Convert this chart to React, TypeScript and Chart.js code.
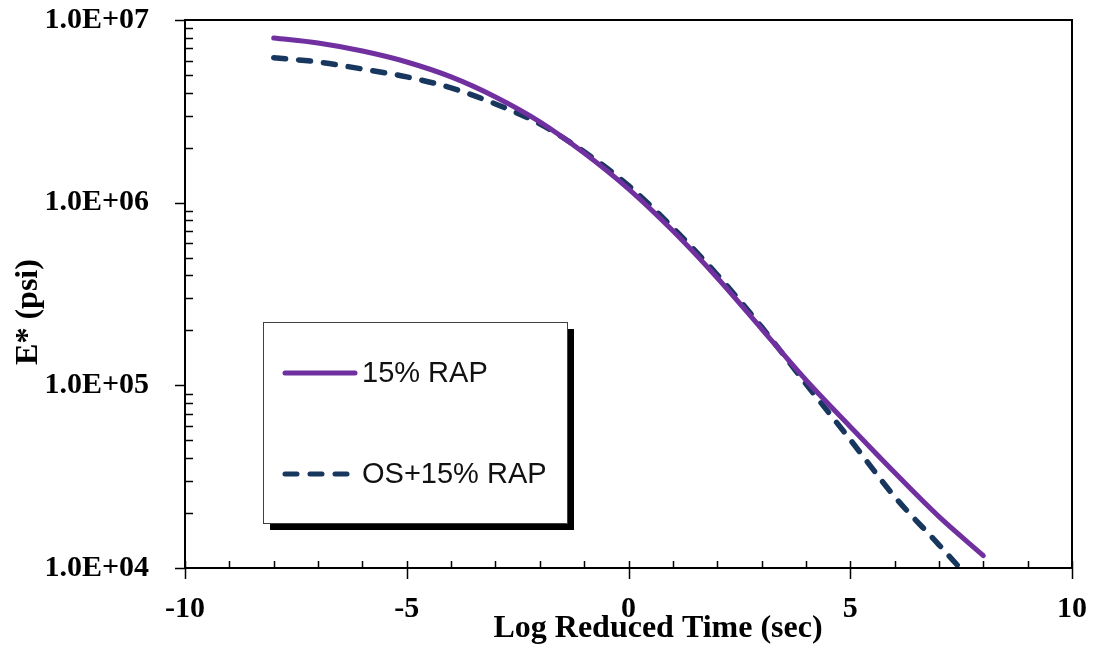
import { useEffect, useRef } from "react";
import { Chart, registerables } from "chart.js";

Chart.register(...registerables);

// Master curves: dynamic modulus vs. log reduced time
const logTime = [-8, -7, -6, -5, -4, -3, -2, -1, 0, 1, 2, 3, 4, 5, 6, 7, 8];
const rap15 = [
  7.97e6, 7.48e6, 6.76e6, 5.89e6, 4.88e6, 3.79e6, 2.77e6, 1.87e6, 1.19e6,
  7.01e5, 3.88e5, 2.04e5, 1.07e5, 5.94e4, 3.33e4, 1.91e4, 1.17e4,
];
const osRap15 = [
  6.22e6, 5.89e6, 5.39e6, 4.88e6, 4.25e6, 3.47e6, 2.7e6, 1.9e6, 1.24e6,
  7.28e5, 4.03e5, 2.09e5, 1.02e5, 5.04e4, 2.46e4, 1.34e4, 7.2e3,
];
const seriesLabels = ["15% RAP", "OS+15% RAP"];
const seriesColors = ["#7030A0", "#17375E"];
const yMajorTicks = [1e4, 1e5, 1e6, 1e7];
const xMajorTicks = [-10, -5, 0, 5, 10];
const xTitle = "Log Reduced Time (sec)";
const yTitle = "E* (psi)";

const SERIF = '"Times New Roman", "Liberation Serif", serif';
const SANS = 'Arial, "Liberation Sans", sans-serif';

function sciLabel(v: number): string {
  const e = Math.round(Math.log10(v));
  return `1.0E+${String(e).padStart(2, "0")}`;
}

// Axis frame, tick marks and axis titles
const framePlugin = {
  id: "frameTicks",
  afterDatasetsDraw(chart: any) {
    const { ctx, chartArea: a, scales } = chart;
    const xs = scales.x;
    const ys = scales.y;
    ctx.save();
    ctx.strokeStyle = "#000";
    ctx.lineWidth = 2;
    ctx.beginPath();
    ctx.moveTo(a.left, a.top);
    ctx.lineTo(a.right, a.top);
    ctx.lineTo(a.right, a.bottom);
    ctx.lineTo(a.left, a.bottom);
    ctx.closePath();
    ctx.stroke();

    ctx.lineWidth = 1.5;
    ctx.beginPath();
    // x ticks: majors cross the axis, minors inside at each unit
    for (let v = -10; v <= 10; v++) {
      const px = Math.round(xs.getPixelForValue(v)) + 0.5;
      const major = xMajorTicks.includes(v);
      ctx.moveTo(px, a.bottom - 7);
      ctx.lineTo(px, a.bottom + (major ? 11 : 0));
    }
    // y ticks: majors outside, log minors inside
    for (const m of yMajorTicks) {
      const py = Math.round(ys.getPixelForValue(m)) + 0.5;
      ctx.moveTo(a.left - 10, py);
      ctx.lineTo(a.left, py);
      if (m < 1e7) {
        for (let k = 2; k <= 9; k++) {
          const qy = Math.round(ys.getPixelForValue(m * k)) + 0.5;
          ctx.moveTo(a.left, qy);
          ctx.lineTo(a.left + 8, qy);
        }
      }
    }
    ctx.stroke();

    ctx.fillStyle = "#000";
    ctx.font = `bold 32px ${SERIF}`;
    ctx.textAlign = "center";
    ctx.textBaseline = "alphabetic";
    ctx.fillText(xTitle, 658, 637);
    ctx.save();
    ctx.translate(37, 312);
    ctx.rotate(-Math.PI / 2);
    ctx.fillText(yTitle, 0, 0);
    ctx.restore();
    ctx.restore();
  },
};

// Boxed legend with drop shadow inside the plot
const legendPlugin = {
  id: "boxLegend",
  afterDraw(chart: any) {
    const { ctx } = chart;
    const bx = 263, by = 322, bw = 304, bh = 201;
    ctx.save();
    ctx.fillStyle = "#000";
    ctx.fillRect(bx + 7, by + 7, bw, bh);
    ctx.fillStyle = "#fff";
    ctx.fillRect(bx, by, bw, bh);
    ctx.strokeStyle = "#404040";
    ctx.lineWidth = 1;
    ctx.strokeRect(bx + 0.5, by + 0.5, bw, bh);

    const rows = [373, 474];
    chart.data.datasets.forEach((ds: any, i: number) => {
      const y = rows[i];
      ctx.strokeStyle = ds.borderColor;
      ctx.lineWidth = 5;
      ctx.lineCap = "round";
      ctx.setLineDash(ds.borderDash || []);
      ctx.beginPath();
      ctx.moveTo(285, y);
      ctx.lineTo(i === 0 ? 355 : 352, y);
      ctx.stroke();
      ctx.setLineDash([]);
      ctx.fillStyle = "#111";
      ctx.font = `29px ${SANS}`;
      ctx.textAlign = "left";
      ctx.textBaseline = "middle";
      ctx.fillText(ds.label, 362, y + 1);
    });
    ctx.restore();
  },
};

export default function App() {
  const canvasRef = useRef<HTMLCanvasElement | null>(null);

  useEffect(() => {
    const canvas = canvasRef.current;
    if (!canvas) return;
    const chart = new Chart(canvas, {
      type: "line",
      data: {
        labels: logTime,
        datasets: [
          {
            label: seriesLabels[0],
            data: logTime.map((t, i) => ({ x: t, y: rap15[i] })),
            borderColor: seriesColors[0],
            borderWidth: 5,
            pointRadius: 0,
            cubicInterpolationMode: "monotone",
            borderCapStyle: "round",
            fill: false,
          },
          {
            label: seriesLabels[1],
            data: logTime.map((t, i) => ({ x: t, y: osRap15[i] })),
            borderColor: seriesColors[1],
            borderWidth: 5.5,
            borderDash: [12, 13],
            borderCapStyle: "round",
            pointRadius: 0,
            cubicInterpolationMode: "monotone",
            fill: false,
          },
        ],
      },
      options: {
        responsive: false,
        animation: false,
        layout: { padding: { top: 20, right: 25, left: 0, bottom: 0 } },
        plugins: { legend: { display: false }, tooltip: { enabled: false } },
        scales: {
          x: {
            type: "linear",
            min: -10,
            max: 10,
            grid: { display: false },
            border: { display: false },
            afterBuildTicks: (s: any) => {
              s.ticks = xMajorTicks.map((v) => ({ value: v }));
            },
            afterFit: (s: any) => {
              s.height = 81;
              s.paddingLeft = 0;
              s.paddingRight = 0;
            },
            ticks: {
              color: "#000",
              padding: 15,
              maxRotation: 0,
              font: { family: SERIF, size: 30, weight: "bold" },
              callback: (v: any) => String(v),
            },
          },
          y: {
            type: "logarithmic",
            min: 1e4,
            max: 1e7,
            grid: { display: false },
            border: { display: false },
            afterBuildTicks: (s: any) => {
              s.ticks = yMajorTicks.map((v) => ({ value: v }));
            },
            afterFit: (s: any) => {
              s.width = 185;
              s.paddingTop = 0;
              s.paddingBottom = 0;
            },
            ticks: {
              color: "#000",
              padding: 28,
              font: { family: SERIF, size: 30, weight: "bold" },
              callback: (v: any) => sciLabel(Number(v)),
            },
          },
        },
      },
      plugins: [framePlugin, legendPlugin],
    } as any);
    return () => chart.destroy();
  }, []);

  return (
    <div style={{ position: "absolute", left: 0, top: 0, width: 1097, height: 649, background: "#fff" }}>
      <canvas ref={canvasRef} width={1097} height={649} style={{ display: "block" }} />
    </div>
  );
}
